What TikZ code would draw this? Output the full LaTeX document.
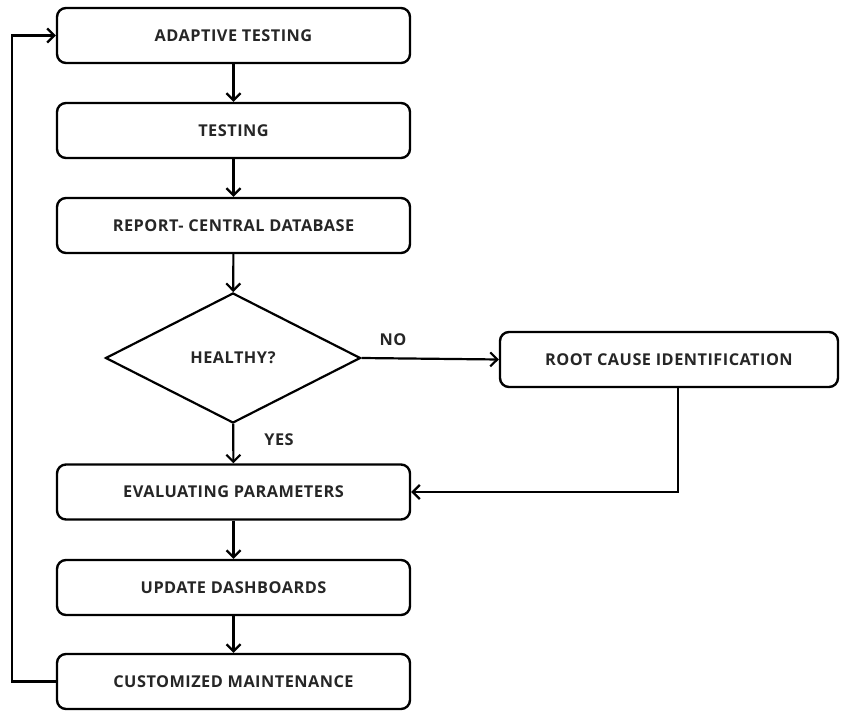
\documentclass[tikz,border=0pt]{standalone}
\usepackage{fontspec}
\setmainfont{Open Sans}[LetterSpace=3]
\usetikzlibrary{shapes.geometric,arrows.meta}
\begin{document}
\begin{tikzpicture}[x=1pt,y=-1pt,
  txt/.style={font=\bfseries\fontsize{16.3}{19}\selectfont, text=black!85},
  box/.style={draw, txt, line width=2.4pt, rounded corners=9pt, minimum width=353pt, minimum height=55pt, inner sep=0pt},
  dec/.style={draw, txt, diamond, line width=2.2pt, aspect=1.96, minimum width=255pt, minimum height=130pt, inner sep=0pt},
  arr/.style={line width=2.2pt, -{Straight Barb[length=7pt,width=14pt,line width=2.2pt]}}]
\useasboundingbox (0,0) rectangle (843,711);
\node[box] (a) at (233.5,35.5) {ADAPTIVE TESTING};
\node[box] (t) at (233.5,130.5) {TESTING};
\node[box] (r) at (233.5,225.5) {REPORT- CENTRAL DATABASE};
\node[dec] (h) at (233,358) {HEALTHY?};
\node[box, minimum width=338pt] (rc) at (669,359.5) {ROOT CAUSE IDENTIFICATION};
\node[box] (e) at (233.5,492) {EVALUATING PARAMETERS};
\node[box] (u) at (233.5,587.5) {UPDATE DASHBOARDS};
\node[box] (c) at (233.5,681.5) {CUSTOMIZED MAINTENANCE};
\coordinate (cl) at (12,681.5);
\coordinate (al) at (12,35.5);
\coordinate (rd) at (678,492);
\draw[arr] (a) -- (t);
\draw[arr] (t) -- (r);
\draw[arr] (r) -- (h);
\draw[arr] (h) -- (e);
\draw[arr] (h.east) -- (rc.west);
\draw[arr] (rc.south -| rd) -- (rd) -- (e.east);
\draw[arr] (u) -- (c);
\draw[arr] (e) -- (u);
\draw[arr] (c.west) -- (cl) -- (al) -- (a.west);
\node[txt] (no) at (393,340) {NO};
\node[txt] (yes) at (279,440) {YES};
\end{tikzpicture}
\end{document}
